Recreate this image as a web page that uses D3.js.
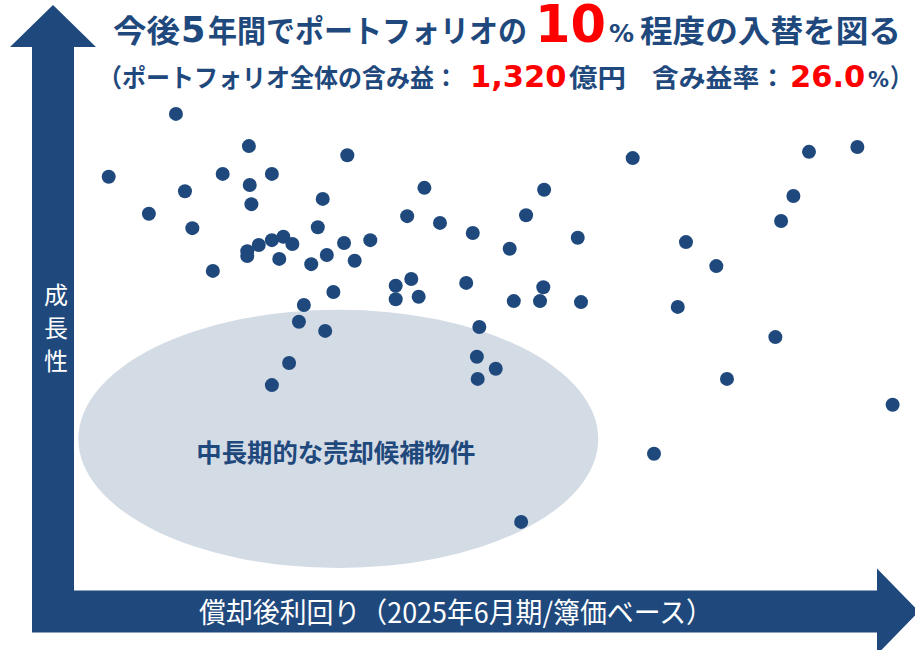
<!DOCTYPE html>
<html lang="ja">
<head>
<meta charset="utf-8">
<script src="https://cdn.jsdelivr.net/npm/d3@7"></script>
<style>
  html, body { margin: 0; padding: 0; background: #fff; }
  svg { display: block; }
  text { font-family: "Noto Sans CJK JP", "Noto Sans", sans-serif; }
  text.num { font-family: "DejaVu Sans", "Noto Sans", sans-serif; }
</style>
</head>
<body>
<svg id="chart" width="915" height="650"></svg>
<script>
// Properties: amortised yield (x, relative scale 0-100) and growth (y, relative scale 0-100)
const yieldX = [
  3.5, 11.7, 8.4, 12.8, 13.7, 16.2, 17.4, 20.6, 20.7, 20.9, 23.4,
  20.4, 20.4, 21.8, 23.4, 24.8, 25.9, 24.3, 32.6, 29.6, 29.0, 28.2,
  30.1, 32.2, 33.5, 35.4, 30.9, 27.3, 42.0, 39.9, 43.9, 47.9, 38.5,
  40.4, 38.5, 41.3, 47.1, 67.4, 56.6, 54.4, 60.7, 52.4, 56.5, 52.9,
  56.1, 61.1, 88.9, 94.8, 87.0, 85.5, 73.9, 77.6, 72.9, 84.8, 78.9,
  99.1, 70.0, 53.8, 48.7, 48.4, 50.7, 48.5, 26.7, 29.9, 25.5, 23.4
];
const growthY = [
  84.0, 97.1, 76.3, 81.0, 73.3, 64.4, 84.6, 90.4, 82.3, 78.3, 84.6,
  68.5, 67.5, 69.8, 70.8, 71.5, 70.0, 66.9, 88.5, 79.4, 73.5, 65.8,
  67.7, 70.2, 66.5, 70.8, 60.0, 57.3, 81.7, 75.8, 74.4, 72.3, 61.3,
  62.7, 58.5, 59.0, 61.9, 87.9, 81.3, 76.0, 71.3, 69.0, 61.0, 58.1,
  58.1, 57.9, 89.2, 90.2, 80.0, 74.8, 70.4, 65.4, 56.9, 50.6, 41.9,
  36.5, 26.3, 12.1, 52.7, 46.5, 44.0, 41.9, 53.8, 51.9, 45.2, 40.6
];

// Candidate zone for medium/long-term sale: centre and radii in data units
const zoneCenter = [31.5, 29.4];
const zoneRadius = [31.7, 26.9];

// Title pieces: [text, colour key, font size, x start, fitted width or null, numeric font]
const titleLine1 = [
  ["今後", "blue", 31, 113, 67, false],
  ["5", "blue", 35, 181, null, true],
  ["年間でポートフォリオの", "blue", 31, 208, 319, false],
  ["10", "red", 51, 535, null, true],
  ["%", "blue", 25, 609, null, true],
  ["程度の入替を図る", "blue", 31, 640, 261, false]
];
const titleLine2 = [
  ["（ポートフォリオ全体の含み益：", "blue", 25.5, 98, 360, false],
  ["1,320", "red", 30.5, 470, null, true],
  ["億円", "blue", 25.5, 569, 57, false],
  ["含み益率：", "blue", 25.5, 652, 134, false],
  ["26.0", "red", 30.5, 790, null, true],
  ["%", "blue", 21, 868, null, true],
  ["）", "blue", 25.5, 890, 22, false]
];
const yAxisLabel = ["成", "長", "性"];
const xAxisLabel = "償却後利回り（2025年6月期/簿価ベース）";
const zoneLabel = "中長期的な売却候補物件";

const colors = { blue: "#1f497d", red: "#ff0000", zone: "#d3dbe5", white: "#ffffff" };

const svg = d3.select("#chart");

const x = d3.scaleLinear().domain([0, 100]).range([80, 900]);
const y = d3.scaleLinear().domain([0, 100]).range([580, 100]);

// Sale-candidate zone
svg.append("ellipse")
  .attr("cx", x(zoneCenter[0]))
  .attr("cy", y(zoneCenter[1]))
  .attr("rx", x(zoneCenter[0] + zoneRadius[0]) - x(zoneCenter[0]))
  .attr("ry", y(0) - y(zoneRadius[1]))
  .attr("fill", colors.zone);

svg.append("text")
  .attr("x", x(zoneCenter[0]) - 2.5)
  .attr("y", 462)
  .attr("text-anchor", "middle")
  .attr("font-size", 25)
  .attr("font-weight", 700)
  .attr("fill", colors.blue)
  .attr("textLength", 279)
  .attr("lengthAdjust", "spacingAndGlyphs")
  .text(zoneLabel);

// Axis arrows
const shaft = 21;      // half thickness of arrow shaft
const headHalf = 43;   // half width of arrow head
const headLen = 42;
const ax = 53, ay = 611.5;  // axis centre lines
const vPath = d3.path();
vPath.moveTo(ax - shaft, ay + shaft);
vPath.lineTo(ax - shaft, 5 + headLen);
vPath.lineTo(ax - headHalf, 5 + headLen);
vPath.lineTo(ax, 5);
vPath.lineTo(ax + headHalf, 5 + headLen);
vPath.lineTo(ax + shaft, 5 + headLen);
vPath.lineTo(ax + shaft, ay - shaft);
vPath.lineTo(877, ay - shaft);
vPath.lineTo(877, ay - headHalf);
vPath.lineTo(877 + headLen, ay);
vPath.lineTo(877, ay + headHalf);
vPath.lineTo(877, ay + shaft);
vPath.closePath();
svg.append("path").attr("d", vPath.toString()).attr("fill", colors.blue);

// Axis titles
svg.append("g").selectAll("text")
  .data(yAxisLabel)
  .join("text")
  .attr("x", 56)
  .attr("y", (d, i) => 304 + i * 33)
  .attr("text-anchor", "middle")
  .attr("font-size", 24)
  .attr("fill", colors.white)
  .text(d => d);

svg.append("text")
  .attr("x", 199)
  .attr("y", 623)
  .attr("font-size", 28)
  .attr("fill", colors.white)
  .attr("textLength", 514)
  .attr("lengthAdjust", "spacingAndGlyphs")
  .text(xAxisLabel);

// Properties
svg.append("g").selectAll("circle")
  .data(yieldX.map((v, i) => [v, growthY[i]]))
  .join("circle")
  .attr("cx", d => x(d[0]))
  .attr("cy", d => y(d[1]))
  .attr("r", 7)
  .attr("fill", colors.blue);

// Title lines
function drawLine(parts, baseline) {
  const t = svg.append("g").selectAll("text")
    .data(parts)
    .join("text")
    .attr("class", d => d[5] ? "num" : null)
    .attr("x", d => d[3])
    .attr("y", baseline)
    .attr("font-size", d => d[2])
    .attr("font-weight", 700)
    .attr("fill", d => colors[d[1]])
    .text(d => d[0]);
  t.filter(d => d[4] != null)
    .attr("textLength", d => d[4])
    .attr("lengthAdjust", "spacingAndGlyphs");
}
drawLine(titleLine1, 42);
drawLine(titleLine2, 87);
</script>
</body>
</html>
